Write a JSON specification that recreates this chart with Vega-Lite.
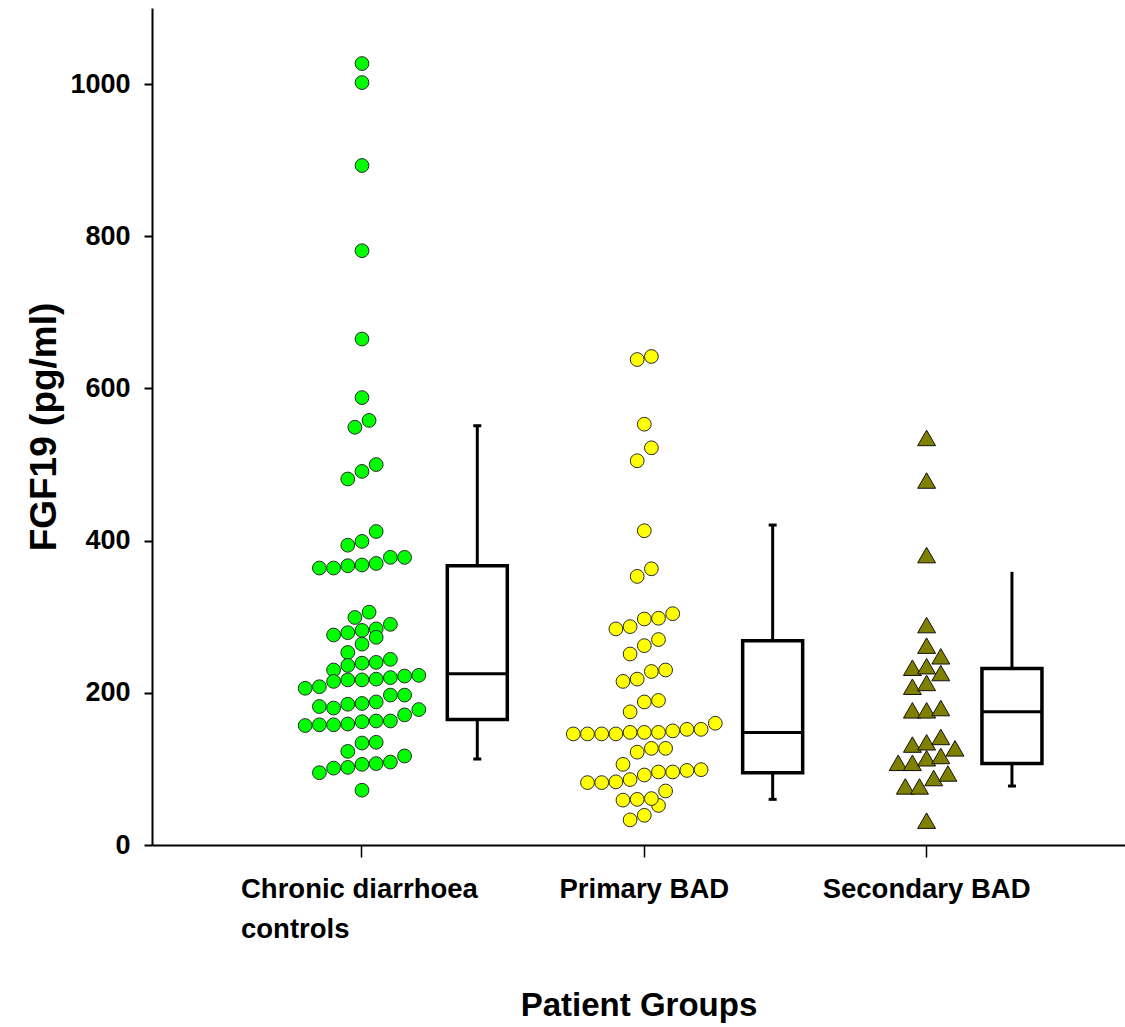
{
  "$schema": "https://vega.github.io/schema/vega-lite/v6.json",
  "width": 973,
  "height": 837,
  "autosize": {"type": "none"},
  "padding": {"left": 152, "top": 8, "right": 0, "bottom": 182},
  "background": "white",
  "config": {
    "view": {"stroke": null},
    "axis": {"domainColor": "black", "domainWidth": 2, "tickColor": "black", "labelColor": "black", "titleColor": "black", "grid": false}
  },
  "datasets": {
    "dots": [
      {"group": "Chronic diarrhoea controls", "slot": 0, "v": 1027},
      {"group": "Chronic diarrhoea controls", "slot": 0, "v": 1002},
      {"group": "Chronic diarrhoea controls", "slot": 0, "v": 893},
      {"group": "Chronic diarrhoea controls", "slot": 0, "v": 781},
      {"group": "Chronic diarrhoea controls", "slot": 0, "v": 665},
      {"group": "Chronic diarrhoea controls", "slot": 0, "v": 588},
      {"group": "Chronic diarrhoea controls", "slot": -0.5, "v": 549},
      {"group": "Chronic diarrhoea controls", "slot": 0.5, "v": 558},
      {"group": "Chronic diarrhoea controls", "slot": -1, "v": 481},
      {"group": "Chronic diarrhoea controls", "slot": 0, "v": 491},
      {"group": "Chronic diarrhoea controls", "slot": 1, "v": 500},
      {"group": "Chronic diarrhoea controls", "slot": 1, "v": 412},
      {"group": "Chronic diarrhoea controls", "slot": -1, "v": 394},
      {"group": "Chronic diarrhoea controls", "slot": 0, "v": 399},
      {"group": "Chronic diarrhoea controls", "slot": -3, "v": 364},
      {"group": "Chronic diarrhoea controls", "slot": -2, "v": 364},
      {"group": "Chronic diarrhoea controls", "slot": -1, "v": 367},
      {"group": "Chronic diarrhoea controls", "slot": 0, "v": 368},
      {"group": "Chronic diarrhoea controls", "slot": 1, "v": 370},
      {"group": "Chronic diarrhoea controls", "slot": 2, "v": 378},
      {"group": "Chronic diarrhoea controls", "slot": 3, "v": 378},
      {"group": "Chronic diarrhoea controls", "slot": -0.5, "v": 299},
      {"group": "Chronic diarrhoea controls", "slot": 0.5, "v": 306},
      {"group": "Chronic diarrhoea controls", "slot": -2, "v": 276},
      {"group": "Chronic diarrhoea controls", "slot": -1, "v": 279},
      {"group": "Chronic diarrhoea controls", "slot": 0, "v": 282},
      {"group": "Chronic diarrhoea controls", "slot": 1, "v": 284},
      {"group": "Chronic diarrhoea controls", "slot": 2, "v": 290},
      {"group": "Chronic diarrhoea controls", "slot": 1, "v": 273},
      {"group": "Chronic diarrhoea controls", "slot": 0, "v": 264},
      {"group": "Chronic diarrhoea controls", "slot": -1, "v": 253},
      {"group": "Chronic diarrhoea controls", "slot": -2, "v": 230},
      {"group": "Chronic diarrhoea controls", "slot": -1, "v": 236},
      {"group": "Chronic diarrhoea controls", "slot": 0, "v": 239},
      {"group": "Chronic diarrhoea controls", "slot": 1, "v": 240},
      {"group": "Chronic diarrhoea controls", "slot": 2, "v": 244},
      {"group": "Chronic diarrhoea controls", "slot": -4, "v": 206},
      {"group": "Chronic diarrhoea controls", "slot": -3, "v": 208},
      {"group": "Chronic diarrhoea controls", "slot": -2, "v": 215},
      {"group": "Chronic diarrhoea controls", "slot": -1, "v": 217},
      {"group": "Chronic diarrhoea controls", "slot": 0, "v": 217},
      {"group": "Chronic diarrhoea controls", "slot": 1, "v": 218},
      {"group": "Chronic diarrhoea controls", "slot": 2, "v": 220},
      {"group": "Chronic diarrhoea controls", "slot": 3, "v": 222},
      {"group": "Chronic diarrhoea controls", "slot": 4, "v": 223},
      {"group": "Chronic diarrhoea controls", "slot": -3, "v": 182},
      {"group": "Chronic diarrhoea controls", "slot": -2, "v": 180},
      {"group": "Chronic diarrhoea controls", "slot": -1, "v": 185},
      {"group": "Chronic diarrhoea controls", "slot": 0, "v": 186},
      {"group": "Chronic diarrhoea controls", "slot": 1, "v": 188},
      {"group": "Chronic diarrhoea controls", "slot": 2, "v": 197},
      {"group": "Chronic diarrhoea controls", "slot": 3, "v": 197},
      {"group": "Chronic diarrhoea controls", "slot": -4, "v": 157},
      {"group": "Chronic diarrhoea controls", "slot": -3, "v": 158},
      {"group": "Chronic diarrhoea controls", "slot": -2, "v": 158},
      {"group": "Chronic diarrhoea controls", "slot": -1, "v": 159},
      {"group": "Chronic diarrhoea controls", "slot": 0, "v": 162},
      {"group": "Chronic diarrhoea controls", "slot": 1, "v": 163},
      {"group": "Chronic diarrhoea controls", "slot": 2, "v": 163},
      {"group": "Chronic diarrhoea controls", "slot": 3, "v": 171},
      {"group": "Chronic diarrhoea controls", "slot": 4, "v": 178},
      {"group": "Chronic diarrhoea controls", "slot": 0, "v": 134},
      {"group": "Chronic diarrhoea controls", "slot": 1, "v": 135},
      {"group": "Chronic diarrhoea controls", "slot": -1, "v": 123},
      {"group": "Chronic diarrhoea controls", "slot": -3, "v": 95},
      {"group": "Chronic diarrhoea controls", "slot": -2, "v": 101},
      {"group": "Chronic diarrhoea controls", "slot": -1, "v": 102},
      {"group": "Chronic diarrhoea controls", "slot": 0, "v": 106},
      {"group": "Chronic diarrhoea controls", "slot": 1, "v": 107},
      {"group": "Chronic diarrhoea controls", "slot": 2, "v": 109},
      {"group": "Chronic diarrhoea controls", "slot": 3, "v": 117},
      {"group": "Chronic diarrhoea controls", "slot": 0, "v": 72},
      {"group": "Primary BAD", "slot": -0.5, "v": 638},
      {"group": "Primary BAD", "slot": 0.5, "v": 642},
      {"group": "Primary BAD", "slot": 0, "v": 553},
      {"group": "Primary BAD", "slot": 0.5, "v": 522},
      {"group": "Primary BAD", "slot": -0.5, "v": 505},
      {"group": "Primary BAD", "slot": 0, "v": 413},
      {"group": "Primary BAD", "slot": 0.5, "v": 363},
      {"group": "Primary BAD", "slot": -0.5, "v": 353},
      {"group": "Primary BAD", "slot": -2, "v": 284},
      {"group": "Primary BAD", "slot": -1, "v": 287},
      {"group": "Primary BAD", "slot": 0, "v": 297},
      {"group": "Primary BAD", "slot": 1, "v": 298},
      {"group": "Primary BAD", "slot": 2, "v": 304},
      {"group": "Primary BAD", "slot": -1, "v": 251},
      {"group": "Primary BAD", "slot": 0, "v": 262},
      {"group": "Primary BAD", "slot": 1, "v": 270},
      {"group": "Primary BAD", "slot": -1.5, "v": 215},
      {"group": "Primary BAD", "slot": -0.5, "v": 218},
      {"group": "Primary BAD", "slot": 0.5, "v": 228},
      {"group": "Primary BAD", "slot": 1.5, "v": 230},
      {"group": "Primary BAD", "slot": -1, "v": 175},
      {"group": "Primary BAD", "slot": 0, "v": 188},
      {"group": "Primary BAD", "slot": 1, "v": 190},
      {"group": "Primary BAD", "slot": -5, "v": 146},
      {"group": "Primary BAD", "slot": -4, "v": 146},
      {"group": "Primary BAD", "slot": -3, "v": 146},
      {"group": "Primary BAD", "slot": -2, "v": 146},
      {"group": "Primary BAD", "slot": -1, "v": 148},
      {"group": "Primary BAD", "slot": 0, "v": 148},
      {"group": "Primary BAD", "slot": 1, "v": 148},
      {"group": "Primary BAD", "slot": 2, "v": 150},
      {"group": "Primary BAD", "slot": 3, "v": 152},
      {"group": "Primary BAD", "slot": 4, "v": 152},
      {"group": "Primary BAD", "slot": 5, "v": 160},
      {"group": "Primary BAD", "slot": -0.5, "v": 122},
      {"group": "Primary BAD", "slot": 0.5, "v": 127},
      {"group": "Primary BAD", "slot": 1.5, "v": 127},
      {"group": "Primary BAD", "slot": -1.5, "v": 106},
      {"group": "Primary BAD", "slot": -4, "v": 82},
      {"group": "Primary BAD", "slot": -3, "v": 82},
      {"group": "Primary BAD", "slot": -2, "v": 83},
      {"group": "Primary BAD", "slot": -1, "v": 86},
      {"group": "Primary BAD", "slot": 0, "v": 92},
      {"group": "Primary BAD", "slot": 1, "v": 96},
      {"group": "Primary BAD", "slot": 2, "v": 96},
      {"group": "Primary BAD", "slot": 3, "v": 98},
      {"group": "Primary BAD", "slot": 4, "v": 99},
      {"group": "Primary BAD", "slot": 1, "v": 52},
      {"group": "Primary BAD", "slot": -1.5, "v": 59},
      {"group": "Primary BAD", "slot": -0.5, "v": 60},
      {"group": "Primary BAD", "slot": 0.5, "v": 61},
      {"group": "Primary BAD", "slot": 1.5, "v": 71},
      {"group": "Primary BAD", "slot": -1, "v": 33},
      {"group": "Primary BAD", "slot": 0, "v": 39},
      {"group": "Secondary BAD", "slot": 0, "v": 535},
      {"group": "Secondary BAD", "slot": 0, "v": 479},
      {"group": "Secondary BAD", "slot": 0, "v": 381},
      {"group": "Secondary BAD", "slot": 0, "v": 289},
      {"group": "Secondary BAD", "slot": 0, "v": 262},
      {"group": "Secondary BAD", "slot": 1, "v": 248},
      {"group": "Secondary BAD", "slot": -1, "v": 233},
      {"group": "Secondary BAD", "slot": 0, "v": 235},
      {"group": "Secondary BAD", "slot": 1, "v": 226},
      {"group": "Secondary BAD", "slot": -1, "v": 208},
      {"group": "Secondary BAD", "slot": 0, "v": 213},
      {"group": "Secondary BAD", "slot": -1, "v": 177},
      {"group": "Secondary BAD", "slot": 0, "v": 177},
      {"group": "Secondary BAD", "slot": 1, "v": 180},
      {"group": "Secondary BAD", "slot": -1, "v": 132},
      {"group": "Secondary BAD", "slot": 0, "v": 135},
      {"group": "Secondary BAD", "slot": 1, "v": 142},
      {"group": "Secondary BAD", "slot": 2, "v": 127},
      {"group": "Secondary BAD", "slot": -2, "v": 108},
      {"group": "Secondary BAD", "slot": -1, "v": 108},
      {"group": "Secondary BAD", "slot": 0, "v": 114},
      {"group": "Secondary BAD", "slot": 1, "v": 117},
      {"group": "Secondary BAD", "slot": -1.5, "v": 77},
      {"group": "Secondary BAD", "slot": -0.5, "v": 77},
      {"group": "Secondary BAD", "slot": 0.5, "v": 88},
      {"group": "Secondary BAD", "slot": 1.5, "v": 94},
      {"group": "Secondary BAD", "slot": 0, "v": 32}
    ],
    "boxes": [
      {"group": "Chronic diarrhoea controls", "pos": 8.12, "lo": 113, "q1": 165, "med": 225, "q3": 367, "hi": 551, "capHi": 551},
      {"group": "Primary BAD", "pos": 9.04, "lo": 60, "q1": 95, "med": 148, "q3": 268.5, "hi": 420.5, "capHi": 420.5},
      {"group": "Secondary BAD", "pos": 6.01, "lo": 77.5, "q1": 107, "med": 175, "q3": 232, "hi": 359, "capHi": null}
    ]
  },
  "encoding": {
    "x": {
      "field": "group",
      "type": "nominal",
      "sort": null,
      "scale": {"domain": ["Chronic diarrhoea controls", "Primary BAD", "Secondary BAD"], "paddingInner": 0, "paddingOuter": 0.2233, "align": 0.546},
      "axis": {
        "title": "Patient Groups",
        "titleFont": "Liberation Sans, Arial, sans-serif",
        "titleFontSize": 33,
        "titleFontWeight": "bold",
        "titleBaseline": "alphabetic",
        "titleY": 170,
        "labelAngle": 0,
        "labelFont": "Liberation Sans, Arial, sans-serif",
        "labelFontSize": 27.5,
        "labelFontWeight": "bold",
        "labelPadding": 18,
        "labelLineHeight": 40,
        "labelLimit": 0,
        "labelExpr": "datum.value == 'Chronic diarrhoea controls' ? ['Chronic diarrhoea', 'controls'] : datum.value",
        "labelAlign": {"condition": {"test": "datum.value == 'Chronic diarrhoea controls'", "value": "left"}, "value": "center"},
        "labelOffset": {"condition": {"test": "datum.value == 'Chronic diarrhoea controls'", "value": -121}, "value": 0},
        "tickSize": 12,
        "tickWidth": 1.5
      }
    }
  },
  "layer": [
    {
      "data": {"name": "dots"},
      "transform": [{"filter": "datum.group != 'Secondary BAD'"}],
      "mark": {"type": "point", "shape": "circle", "size": 190, "stroke": "#2a2a2a", "strokeWidth": 1, "opacity": 1, "filled": true},
      "encoding": {
        "xOffset": {"field": "slot", "type": "quantitative", "scale": {"domain": [-10, 10], "range": [-0.85, 283.15]}},
        "y": {
          "field": "v",
          "type": "quantitative",
          "title": "FGF19 (pg/ml)",
          "scale": {"domain": [0, 1100], "nice": false},
          "axis": {
            "title": "FGF19 (pg/ml)",
            "titleFont": "Liberation Sans, Arial, sans-serif",
            "titleFontSize": 37,
            "titleFontWeight": "bold",
            "titleBaseline": "alphabetic",
            "titleX": -97,
            "titleAnchor": "middle",
            "values": [0, 200, 400, 600, 800, 1000],
            "format": "d",
            "labelFont": "Liberation Sans, Arial, sans-serif",
            "labelFontSize": 27,
            "labelFontWeight": "bold",
            "labelPadding": 14,
            "tickSize": 8,
            "tickWidth": 2
          }
        },
        "fill": {"field": "group", "type": "nominal", "scale": {"domain": ["Chronic diarrhoea controls", "Primary BAD", "Secondary BAD"], "range": ["#00ff00", "#ffff00", "#808000"]}, "legend": null}
      }
    },
    {
      "data": {"name": "dots"},
      "transform": [{"filter": "datum.group == 'Secondary BAD'"}],
      "mark": {"type": "point", "shape": "triangle-up", "size": 320, "stroke": "#111111", "strokeWidth": 1, "opacity": 1, "filled": true},
      "encoding": {
        "xOffset": {"field": "slot", "type": "quantitative"},
        "y": {"field": "v", "type": "quantitative", "title": "FGF19 (pg/ml)"},
        "fill": {"field": "group", "type": "nominal", "legend": null}
      }
    },
    {
      "data": {"name": "boxes"},
      "mark": {"type": "rule", "color": "black", "strokeWidth": 3},
      "encoding": {
        "xOffset": {"field": "pos", "type": "quantitative"},
        "y": {"field": "lo", "type": "quantitative", "title": "FGF19 (pg/ml)"},
        "y2": {"field": "q1"}
      }
    },
    {
      "data": {"name": "boxes"},
      "mark": {"type": "rule", "color": "black", "strokeWidth": 3},
      "encoding": {
        "xOffset": {"field": "pos", "type": "quantitative"},
        "y": {"field": "q3", "type": "quantitative", "title": "FGF19 (pg/ml)"},
        "y2": {"field": "hi"}
      }
    },
    {
      "data": {"name": "boxes"},
      "mark": {"type": "bar", "size": 60, "fill": "white", "stroke": "black", "strokeWidth": 3.5},
      "encoding": {
        "xOffset": {"field": "pos", "type": "quantitative"},
        "y": {"field": "q1", "type": "quantitative", "title": "FGF19 (pg/ml)"},
        "y2": {"field": "q3"}
      }
    },
    {
      "data": {"name": "boxes"},
      "mark": {"type": "tick", "size": 60, "thickness": 3, "color": "black", "opacity": 1},
      "encoding": {
        "xOffset": {"field": "pos", "type": "quantitative"},
        "y": {"field": "med", "type": "quantitative", "title": "FGF19 (pg/ml)"}
      }
    },
    {
      "data": {"name": "boxes"},
      "mark": {"type": "tick", "size": 8, "thickness": 3, "color": "black", "opacity": 1},
      "encoding": {
        "xOffset": {"field": "pos", "type": "quantitative"},
        "y": {"field": "lo", "type": "quantitative", "title": "FGF19 (pg/ml)"}
      }
    },
    {
      "data": {"name": "boxes"},
      "mark": {"type": "tick", "size": 8, "thickness": 3, "color": "black", "opacity": 1},
      "encoding": {
        "xOffset": {"field": "pos", "type": "quantitative"},
        "y": {"field": "capHi", "type": "quantitative", "title": "FGF19 (pg/ml)"}
      }
    }
  ]
}
